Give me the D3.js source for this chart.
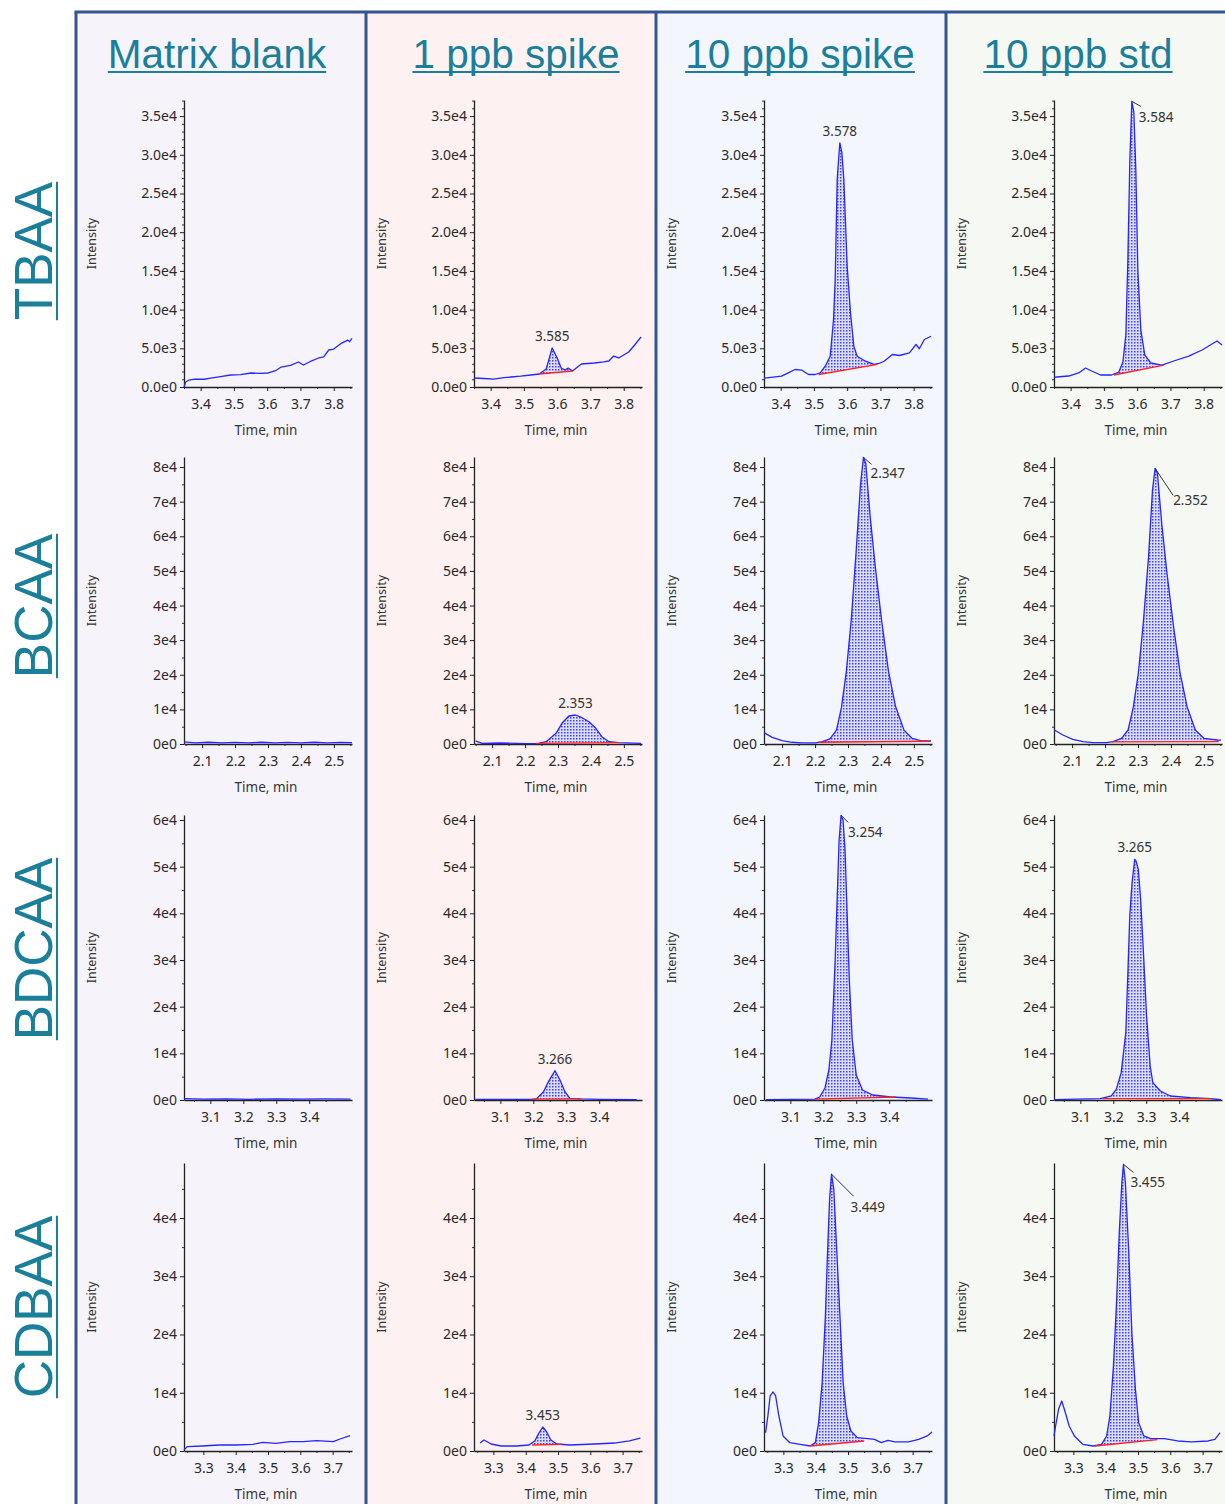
<!DOCTYPE html>
<html>
<head>
<meta charset="utf-8">
<script src="https://cdn.jsdelivr.net/npm/d3@7/dist/d3.min.js"></script>
<style>
  body { margin: 0; background: #ffffff; }
  svg { display: block; }
</style>
</head>
<body>
<div id="chart"></div>
<script>
// Chromatogram grid - 4 compounds x 4 samples
// === DATA ===
const columns = ['Matrix blank', '1 ppb spike', '10 ppb spike', '10 ppb std'];
const compounds = ['TBAA', 'BCAA', 'BDCAA', 'CDBAA'];

// time axis (min) for each compound row
const timeDomains = [[3.35, 3.855], [2.045, 2.555], [3.02, 3.53], [3.24, 3.76]];
const timeTicks = [
    [3.4, 3.5, 3.6, 3.7, 3.8],
    [2.1, 2.2, 2.3, 2.4, 2.5],
    [3.1, 3.2, 3.3, 3.4],
    [3.3, 3.4, 3.5, 3.6, 3.7]
];
const timeMinor = [
    [3.35, 3.45, 3.55, 3.65, 3.75, 3.85],
    [2.05, 2.15, 2.25, 2.35, 2.45, 2.55],
    [3.05, 3.15, 3.25, 3.35, 3.45],
    [3.25, 3.35, 3.45, 3.55, 3.65, 3.75]
];

// intensity axis for each compound row
const intensityMax = [37080, 82900, 61070, 49440];
const intensityTicks = [
    [0, 5000, 10000, 15000, 20000, 25000, 30000, 35000],
    [0, 10000, 20000, 30000, 40000, 50000, 60000, 70000, 80000],
    [0, 10000, 20000, 30000, 40000, 50000, 60000],
    [0, 10000, 20000, 30000, 40000]
];
const intensityLabels = [
    ['0.0e0', '5.0e3', '1.0e4', '1.5e4', '2.0e4', '2.5e4', '3.0e4', '3.5e4'],
    ['0e0', '1e4', '2e4', '3e4', '4e4', '5e4', '6e4', '7e4', '8e4'],
    ['0e0', '1e4', '2e4', '3e4', '4e4', '5e4', '6e4'],
    ['0e0', '1e4', '2e4', '3e4', '4e4']
];
const intensityMinorStep = [1000, 5000, 5000, 5000];

// traces: [time, intensity]
const tbaaBlank = [[3.35, 0], [3.355, 650], [3.365, 900], [3.382, 1030], [3.41, 1000], [3.43, 1160], [3.46, 1350],
    [3.49, 1550], [3.52, 1600], [3.552, 1810], [3.58, 1750], [3.603, 1810], [3.625, 2100], [3.642, 2580], [3.67, 2800],
    [3.694, 3230], [3.709, 2840], [3.73, 3300], [3.755, 3750], [3.77, 3900], [3.785, 4780], [3.8, 4900], [3.824, 5680],
    [3.835, 5900], [3.842, 6070], [3.848, 5850], [3.855, 6300]];
const tbaa1ppb = [[3.35, 1160], [3.38, 1100], [3.409, 1030], [3.44, 1200], [3.461, 1290], [3.49, 1400], [3.521, 1550],
    [3.546, 1680], [3.567, 2330], [3.585, 5040], [3.6, 3750], [3.612, 2450], [3.624, 2200], [3.633, 2450], [3.646, 2070],
    [3.673, 2970], [3.712, 3100], [3.74, 3250], [3.755, 3360], [3.77, 4000], [3.785, 3750], [3.815, 4520],
    [3.833, 5430], [3.852, 6460]];
const tbaa10ppb = [[3.35, 1150], [3.358, 1190], [3.403, 1395], [3.423, 1835], [3.443, 2260], [3.464, 2170],
    [3.484, 1615], [3.504, 1615], [3.519, 1835], [3.534, 2690], [3.549, 3980], [3.559, 8720], [3.564, 13890],
    [3.57, 26810], [3.575, 29820], [3.578, 31550], [3.584, 30300], [3.59, 26810], [3.6, 15610], [3.61, 9590],
    [3.62, 5270], [3.63, 3980], [3.655, 3330], [3.681, 2910], [3.696, 3040], [3.711, 3330], [3.736, 4200],
    [3.757, 4070], [3.787, 4420], [3.807, 5490], [3.817, 4940], [3.832, 6140], [3.852, 6560]];
const tbaaStd = [[3.35, 1250], [3.358, 1290], [3.394, 1420], [3.424, 1810], [3.445, 2450], [3.463, 2070], [3.49, 1550],
    [3.523, 1550], [3.545, 1940], [3.557, 3230], [3.566, 6720], [3.572, 16410], [3.578, 29330], [3.584, 36900],
    [3.59, 35530], [3.596, 28040], [3.602, 15120], [3.611, 7360], [3.623, 4130], [3.641, 3100], [3.674, 2840],
    [3.71, 3360], [3.755, 4000], [3.795, 4780], [3.825, 5560], [3.84, 5940], [3.855, 5430]];

const bcaaBlank = [[2.045, 600], [2.08, 300], [2.12, 500], [2.16, 300], [2.2, 450], [2.24, 350], [2.28, 500],
    [2.32, 300], [2.36, 450], [2.4, 350], [2.44, 500], [2.48, 300], [2.52, 450], [2.555, 400]];
const bcaa1ppb = [[2.05, 900], [2.055, 660], [2.07, 200], [2.121, 290], [2.203, 100], [2.242, 150], [2.264, 660],
    [2.294, 3090], [2.312, 5980], [2.333, 8090], [2.353, 8380], [2.373, 7600], [2.394, 6440], [2.415, 4530],
    [2.433, 2110], [2.455, 660], [2.485, 380], [2.552, 200]];
const bcaa10ppb = [[2.046, 3200], [2.07, 1900], [2.1, 1000], [2.13, 500], [2.16, 350], [2.2, 350], [2.22, 600],
    [2.245, 1500], [2.265, 4000], [2.28, 10500], [2.295, 21000], [2.31, 36000], [2.325, 56000], [2.338, 75000],
    [2.347, 82800], [2.354, 81000], [2.367, 66000], [2.383, 51000], [2.403, 35000], [2.423, 21000], [2.444, 11000],
    [2.47, 4000], [2.495, 1600], [2.52, 1000], [2.552, 900]];
const bcaaStd = [[2.046, 4040], [2.072, 2600], [2.102, 1360], [2.133, 660], [2.163, 380], [2.204, 380], [2.224, 660],
    [2.25, 1640], [2.27, 4040], [2.286, 10770], [2.301, 20420], [2.316, 34860], [2.332, 54090], [2.344, 73350],
    [2.352, 79620], [2.359, 78180], [2.372, 63740], [2.388, 49300], [2.408, 33880], [2.428, 20420], [2.449, 10770],
    [2.474, 4040], [2.5, 1640], [2.541, 1160], [2.552, 1100]];

const bdcaaBlank = [[3.02, 300], [3.08, 200], [3.15, 250], [3.22, 150], [3.3, 250], [3.38, 200], [3.45, 250],
    [3.525, 200]];
const bdcaa1ppb = [[3.024, 150], [3.199, 150], [3.21, 300], [3.231, 1780], [3.246, 3930], [3.266, 6280],
    [3.281, 4290], [3.296, 1780], [3.311, 360], [3.342, 250], [3.402, 150], [3.514, 100]];
const bdcaa10ppb = [[3.026, 100], [3.174, 200], [3.189, 640], [3.205, 2570], [3.217, 6430], [3.226, 12860],
    [3.236, 30000], [3.242, 42860], [3.248, 55720], [3.254, 61000], [3.26, 60000], [3.266, 53580], [3.272, 40720],
    [3.279, 25720], [3.288, 12860], [3.3, 5360], [3.319, 2140], [3.35, 1070], [3.405, 640], [3.466, 430],
    [3.518, 200]];
const bdcaaStd = [[3.02, 100], [3.16, 300], [3.194, 860], [3.209, 2290], [3.224, 5860], [3.238, 14430],
    [3.245, 28720], [3.25, 39430], [3.257, 46570], [3.265, 51580], [3.269, 51220], [3.276, 49430], [3.283, 43000],
    [3.291, 32290], [3.301, 18000], [3.312, 7290], [3.32, 3720], [3.343, 1930], [3.373, 860], [3.435, 510],
    [3.496, 300], [3.527, 50]];

const cdbaaBlank = [[3.24, 170], [3.25, 750], [3.297, 860], [3.349, 1030], [3.401, 1030], [3.453, 1150],
    [3.484, 1490], [3.525, 1320], [3.567, 1610], [3.609, 1610], [3.65, 1780], [3.702, 1610], [3.723, 2060],
    [3.754, 2640]];
const cdbaa1ppb = [[3.259, 1370], [3.271, 1890], [3.293, 1200], [3.324, 860], [3.373, 860], [3.41, 1030],
    [3.428, 1720], [3.441, 3090], [3.453, 4120], [3.465, 3260], [3.478, 1890], [3.496, 1200], [3.536, 1030],
    [3.613, 1200], [3.675, 1370], [3.721, 1720], [3.755, 2230]];
const cdbaa10ppb = [[3.245, 3150], [3.252, 6010], [3.259, 9450], [3.268, 10130], [3.276, 9450], [3.286, 6010],
    [3.299, 2580], [3.32, 1430], [3.352, 1150], [3.383, 860], [3.399, 1430], [3.409, 4870], [3.42, 11740],
    [3.43, 23190], [3.437, 34640], [3.443, 43220], [3.449, 47520], [3.456, 44950], [3.464, 35790], [3.475, 23190],
    [3.485, 11740], [3.496, 6010], [3.509, 3430], [3.529, 2290], [3.561, 2120], [3.582, 2000], [3.603, 1430],
    [3.624, 1830], [3.645, 1550], [3.687, 1550], [3.719, 2000], [3.745, 2580], [3.76, 3260]];
const cdbaaStd = [[3.24, 2580], [3.245, 4290], [3.254, 7160], [3.264, 8580], [3.275, 6600], [3.287, 4290],
    [3.303, 2580], [3.329, 1150], [3.361, 860], [3.387, 1150], [3.403, 2580], [3.413, 6010], [3.424, 14590],
    [3.434, 26030], [3.442, 37480], [3.45, 46060], [3.455, 49200], [3.461, 46060], [3.471, 34640], [3.481, 20330],
    [3.492, 10590], [3.502, 4870], [3.518, 2580], [3.539, 2120], [3.581, 2120], [3.623, 1720], [3.665, 1550],
    [3.717, 1720], [3.738, 2000], [3.754, 3150]];

const traces = [
    [tbaaBlank, tbaa1ppb, tbaa10ppb, tbaaStd],
    [bcaaBlank, bcaa1ppb, bcaa10ppb, bcaaStd],
    [bdcaaBlank, bdcaa1ppb, bdcaa10ppb, bdcaaStd],
    [cdbaaBlank, cdbaa1ppb, cdbaa10ppb, cdbaaStd]
];

// integrated peaks: retention time label, integration window, baseline intensities
const tbaaPeaks = [null,
    { rt: '3.585', from: 3.546, to: 3.646, base: [1680, 2070] },
    { rt: '3.578', from: 3.514, to: 3.691, base: [1615, 2910] },
    { rt: '3.584', from: 3.53, to: 3.68, base: [1550, 2840] }];
const bcaaPeaks = [null,
    { rt: '2.353', from: 2.233, to: 2.485, base: [200, 400] },
    { rt: '2.347', from: 2.21, to: 2.55, base: [500, 800] },
    { rt: '2.352', from: 2.22, to: 2.545, base: [600, 700] }];
const bdcaaPeaks = [null,
    { rt: '3.266', from: 3.195, to: 3.347, base: [200, 250] },
    { rt: '3.254', from: 3.177, to: 3.42, base: [200, 640] },
    { rt: '3.265', from: 3.168, to: 3.497, base: [300, 300] }];
const cdbaaPeaks = [null,
    { rt: '3.453', from: 3.42, to: 3.51, base: [1030, 1150] },
    { rt: '3.449', from: 3.383, to: 3.55, base: [860, 1720] },
    { rt: '3.455', from: 3.366, to: 3.56, base: [860, 1960] }];
const peaks = [tbaaPeaks, bcaaPeaks, bdcaaPeaks, cdbaaPeaks];

// === LAYOUT ===
const width = 1225, height = 1504;
const colLeft = 76, colWidth = 290, frameTop = 12;
const colColors = ['#f7f3fa', '#fdf1f1', '#f3f6fc', '#f6f8f3'];
const titleX = [217, 516, 800, 1078];
const rowLabelY = [251, 606, 949, 1307];
const rowTop = [100, 457, 815, 1163];
const rowBottom = [387, 744, 1100, 1451];
const teal = '#1a7f9b';
const font = '"Segoe UI", "Noto Sans", "DejaVu Sans", sans-serif';

// label placement for leader-style peak labels: [leader dx, dy, text dx, dy]
const leaderLayout = {
    '0-3': [9, 5, 7, 21],
    '1-2': [8, 7, 7, 21],
    '1-3': [18, 27, 18, 37],
    '2-2': [7, 7, 7, 22],
    '3-2': [22, 22, 19, 38],
    '3-3': [10, 8, 7, 23]
};

const svg = d3.select('#chart').append('svg')
    .attr('width', width)
    .attr('height', height)
    .style('background', '#ffffff');

const defs = svg.append('defs');
const pattern = defs.append('pattern')
    .attr('id', 'dots')
    .attr('width', 3)
    .attr('height', 3)
    .attr('patternUnits', 'userSpaceOnUse');
pattern.append('rect').attr('width', 3).attr('height', 3).attr('fill', '#dcdeff');
pattern.append('rect').attr('width', 1.5).attr('height', 1.5).attr('fill', '#4040ff');

// column backgrounds and frame
columns.forEach((name, c) => {
    const x0 = colLeft + c * colWidth;
    svg.append('rect')
        .attr('x', x0).attr('y', frameTop)
        .attr('width', colWidth).attr('height', height - frameTop)
        .attr('fill', colColors[c]);
});
svg.append('line')
    .attr('x1', colLeft - 1.5).attr('x2', width)
    .attr('y1', frameTop).attr('y2', frameTop)
    .attr('stroke', '#34558f').attr('stroke-width', 3);
columns.forEach((name, c) => {
    const x0 = colLeft + c * colWidth;
    svg.append('line')
        .attr('x1', x0).attr('x2', x0)
        .attr('y1', frameTop).attr('y2', height)
        .attr('stroke', '#34558f').attr('stroke-width', 3);
});

// underlined text helper
function underlinedTitle(g, text, size, offset) {
    const t = g.append('text')
        .attr('text-anchor', 'middle')
        .attr('font-family', '"Liberation Sans", Arial, sans-serif')
        .attr('font-size', size)
        .attr('fill', teal)
        .text(text);
    const w = t.node().getComputedTextLength();
    g.append('line')
        .attr('x1', -w / 2).attr('x2', w / 2)
        .attr('y1', offset).attr('y2', offset)
        .attr('stroke', teal).attr('stroke-width', 2);
}

columns.forEach((name, c) => {
    const g = svg.append('g').attr('transform', `translate(${titleX[c]},68)`);
    underlinedTitle(g, name, 40.5, 4);
});

compounds.forEach((name, r) => {
    const g = svg.append('g').attr('transform', `translate(52,${rowLabelY[r]}) rotate(-90)`);
    underlinedTitle(g, name, 53, 5);
});

// === PANELS ===
function interp(trace, t) {
    for (let i = 1; i < trace.length; i++) {
        if (trace[i][0] >= t) {
            const a = trace[i - 1], b = trace[i];
            return a[1] + (b[1] - a[1]) * (t - a[0]) / (b[0] - a[0]);
        }
    }
    return trace[trace.length - 1][1];
}

compounds.forEach((compound, r) => {
    columns.forEach((col, c) => {
        const x0 = colLeft + c * colWidth;
        const left = x0 + 108, right = x0 + 276;
        const top = rowTop[r], bottom = rowBottom[r];

        const x = d3.scaleLinear().domain(timeDomains[r]).range([left, right]);
        const y = d3.scaleLinear().domain([0, intensityMax[r]]).range([bottom, top]);

        const g = svg.append('g').attr('class', 'panel');

        // peak fill
        const pk = peaks[r][c];
        const trace = traces[r][c];
        if (pk) {
            const base = t => pk.base[0] + (pk.base[1] - pk.base[0]) * (t - pk.from) / (pk.to - pk.from);
            const pts = [[pk.from, interp(trace, pk.from)]]
                .concat(trace.filter(d => d[0] > pk.from && d[0] < pk.to))
                .concat([[pk.to, interp(trace, pk.to)]])
                .map(d => ({ t: d[0], hi: Math.max(d[1], base(d[0])), lo: base(d[0]) }));
            g.append('path')
                .datum(pts)
                .attr('fill', 'url(#dots)')
                .attr('d', d3.area().x(d => x(d.t)).y0(d => y(d.lo)).y1(d => y(d.hi)));
        }

        // axes
        const yMinor = d3.range(0, intensityMax[r], intensityMinorStep[r])
            .filter(v => !intensityTicks[r].includes(v));
        g.append('g')
            .attr('transform', `translate(${left},0)`)
            .call(d3.axisLeft(y).tickValues(yMinor).tickSize(2).tickSizeOuter(0).tickFormat(''))
            .call(a => a.select('.domain').remove())
            .selectAll('line').attr('stroke', '#333');
        const yAxis = g.append('g')
            .attr('transform', `translate(${left},0)`)
            .call(d3.axisLeft(y)
                .tickValues(intensityTicks[r])
                .tickFormat((d, i) => intensityLabels[r][i])
                .tickSize(4).tickPadding(3).tickSizeOuter(0));
        yAxis.select('.domain').attr('stroke', '#222').attr('stroke-width', 1.3);
        yAxis.selectAll('line').attr('stroke', '#222');
        yAxis.selectAll('text').attr('font-family', font).attr('font-size', 14).attr('fill', '#2a2a2a');

        g.append('g')
            .attr('transform', `translate(0,${bottom})`)
            .call(d3.axisBottom(x).tickValues(timeMinor[r].filter(v => v >= timeDomains[r][0] && v <= timeDomains[r][1]))
                .tickSize(2).tickSizeOuter(0).tickFormat(''))
            .call(a => a.select('.domain').remove())
            .selectAll('line').attr('stroke', '#333');
        const xAxis = g.append('g')
            .attr('transform', `translate(0,${bottom})`)
            .call(d3.axisBottom(x)
                .tickValues(timeTicks[r])
                .tickFormat(d3.format('.1f'))
                .tickSize(4).tickPadding(8).tickSizeOuter(0));
        xAxis.select('.domain').attr('stroke', '#222').attr('stroke-width', 1.3);
        xAxis.selectAll('line').attr('stroke', '#222');
        xAxis.selectAll('text').attr('font-family', font).attr('font-size', 14).attr('fill', '#2a2a2a');

        // trace
        g.append('path')
            .datum(trace)
            .attr('fill', 'none')
            .attr('stroke', '#2626ff')
            .attr('stroke-width', 1.3)
            .attr('stroke-linejoin', 'round')
            .attr('d', d3.line().x(d => x(d[0])).y(d => y(d[1])));

        if (pk) {
            // baseline
            g.append('line')
                .attr('x1', x(pk.from)).attr('y1', y(pk.base[0]))
                .attr('x2', x(pk.to)).attr('y2', y(pk.base[1]))
                .attr('stroke', '#ff2020').attr('stroke-width', 1.3);

            // apex label
            const inPeak = trace.filter(d => d[0] >= pk.from && d[0] <= pk.to);
            const apex = inPeak.reduce((m, d) => d[1] > m[1] ? d : m, inPeak[0]);
            const ax = x(apex[0]), ay = y(apex[1]);
            const lay = leaderLayout[`${r}-${c}`];
            if (lay) {
                g.append('line')
                    .attr('x1', ax).attr('y1', ay)
                    .attr('x2', ax + lay[0]).attr('y2', ay + lay[1])
                    .attr('stroke', '#333').attr('stroke-width', 1);
                g.append('text')
                    .attr('x', ax + lay[2]).attr('y', ay + lay[3])
                    .attr('font-family', font).attr('font-size', 13.5).attr('fill', '#333')
                    .text(pk.rt);
            } else {
                g.append('text')
                    .attr('x', ax).attr('y', ay - 7)
                    .attr('text-anchor', 'middle')
                    .attr('font-family', font).attr('font-size', 13.5).attr('fill', '#333')
                    .text(pk.rt);
            }
        }

        // axis titles
        g.append('text')
            .attr('transform', `translate(${x0 + 20},${(top + bottom) / 2}) rotate(-90)`)
            .attr('text-anchor', 'middle')
            .attr('font-family', font).attr('font-size', 12.5).attr('fill', '#333')
            .text('Intensity');
        g.append('text')
            .attr('x', (left + right) / 2 - 2).attr('y', bottom + 48)
            .attr('text-anchor', 'middle')
            .attr('font-family', font).attr('font-size', 13.5).attr('fill', '#333')
            .text('Time, min');
    });
});
</script>
</body>
</html>
